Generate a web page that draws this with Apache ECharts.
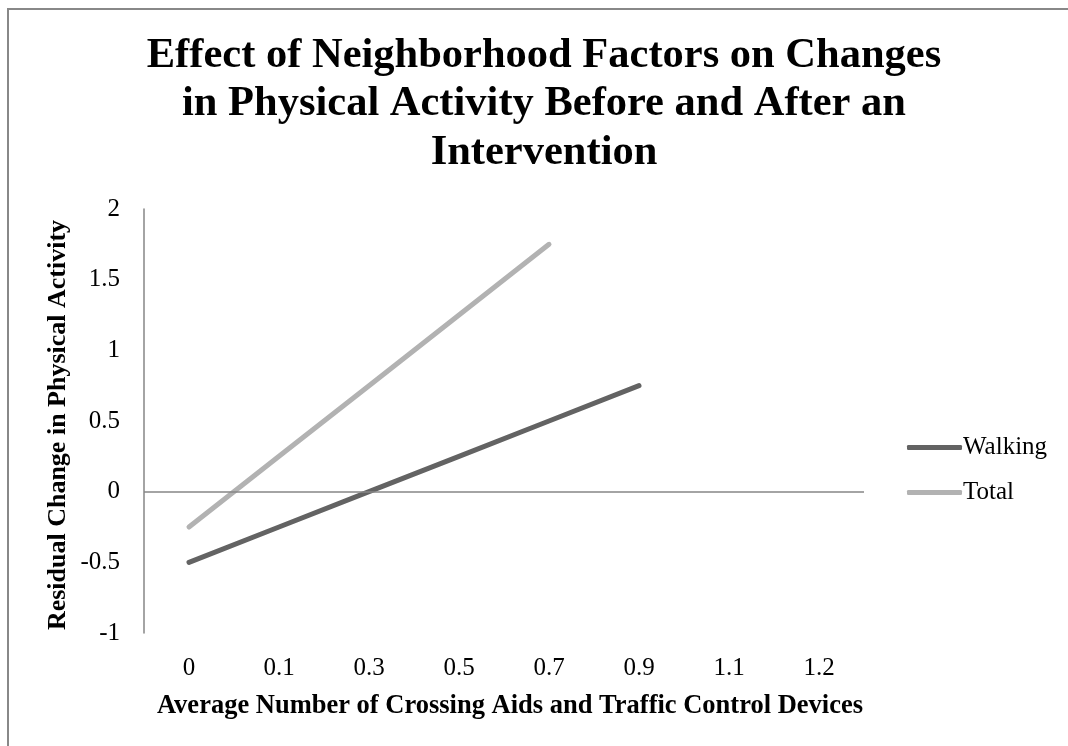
<!DOCTYPE html>
<html>
<head>
<meta charset="utf-8">
<script src="https://cdn.jsdelivr.net/npm/echarts@6/dist/echarts.min.js"></script>
<style>
html,body{margin:0;padding:0;background:#fff;}
#chart{width:1068px;height:746px;}
</style>
</head>
<body>
<div id="chart"></div>
<script>
const categories = ['0', '0.1', '0.3', '0.5', '0.7', '0.9', '1.1', '1.2'];
const walking = [-0.5, -0.25, 0, 0.25, 0.5, 0.75, null, null];
const total = [-0.25, 0.25, 0.75, 1.25, 1.75, null, null, null];
const titleLines = ['Effect of Neighborhood Factors on Changes', 'in Physical Activity Before and After an', 'Intervention'];
const xTitle = 'Average Number of Crossing Aids and Traffic Control Devices';
const yTitle = 'Residual Change in Physical Activity';

const FONT = '"Liberation Serif", "Times New Roman", serif';
const AXIS = '#868686';

const chart = echarts.init(document.getElementById('chart'));
const graphics = [
  { type: 'rect', shape: { x: 8, y: 9, width: 1200, height: 900 }, style: { fill: 'none', stroke: '#888888', lineWidth: 2 }, silent: true }
];
titleLines.forEach((t, i) => {
  graphics.push({ type: 'text', x: 544, y: 56 + i * 48.5, style: { text: t, font: 'bold 42.5px ' + FONT, fill: '#000', textAlign: 'center', textVerticalAlign: 'middle' } });
});
graphics.push({ type: 'text', x: 510, y: 706, style: { text: xTitle, font: 'bold 26.5px ' + FONT, fill: '#000', textAlign: 'center', textVerticalAlign: 'middle' } });
graphics.push({ type: 'text', x: 58, y: 425, rotation: Math.PI / 2, style: { text: yTitle, font: 'bold 26px ' + FONT, fill: '#000', textAlign: 'center', textVerticalAlign: 'middle' } });

chart.setOption({
  animation: false,
  backgroundColor: '#fff',
  graphic: graphics,
  grid: { left: 144, top: 209, width: 720, height: 424, containLabel: false },
  legend: {
    orient: 'vertical', left: 902, top: 430, itemWidth: 55, itemHeight: 5, itemGap: 20,
    icon: 'roundRect',
    textStyle: { fontFamily: FONT, fontSize: 25, color: '#000', padding: [0, 0, 0, -4] },
    data: ['Walking', 'Total']
  },
  xAxis: {
    type: 'category', data: categories, boundaryGap: true,
    axisLine: { show: false }, axisTick: { show: false }, splitLine: { show: false },
    axisLabel: { fontFamily: FONT, fontSize: 25, color: '#000', margin: 23, interval: 0 }
  },
  yAxis: {
    type: 'value', min: -1, max: 2, interval: 0.5,
    axisLine: { show: true, lineStyle: { color: AXIS, width: 1.5 } },
    axisTick: { show: false }, splitLine: { show: false },
    axisLabel: { fontFamily: FONT, fontSize: 25, color: '#000', margin: 24 }
  },
  series: [
    {
      name: 'Walking', type: 'line', data: walking, showSymbol: false, symbol: 'none',
      lineStyle: { color: '#636363', width: 5, cap: 'round' }, itemStyle: { color: '#636363' },
      markLine: { silent: true, symbol: 'none', label: { show: false }, lineStyle: { color: AXIS, width: 1.5, type: 'solid' }, data: [{ yAxis: 0 }] }
    },
    {
      name: 'Total', type: 'line', data: total, showSymbol: false, symbol: 'none',
      lineStyle: { color: '#b2b2b2', width: 5, cap: 'round' }, itemStyle: { color: '#b2b2b2' }
    }
  ]
});
</script>
</body>
</html>
